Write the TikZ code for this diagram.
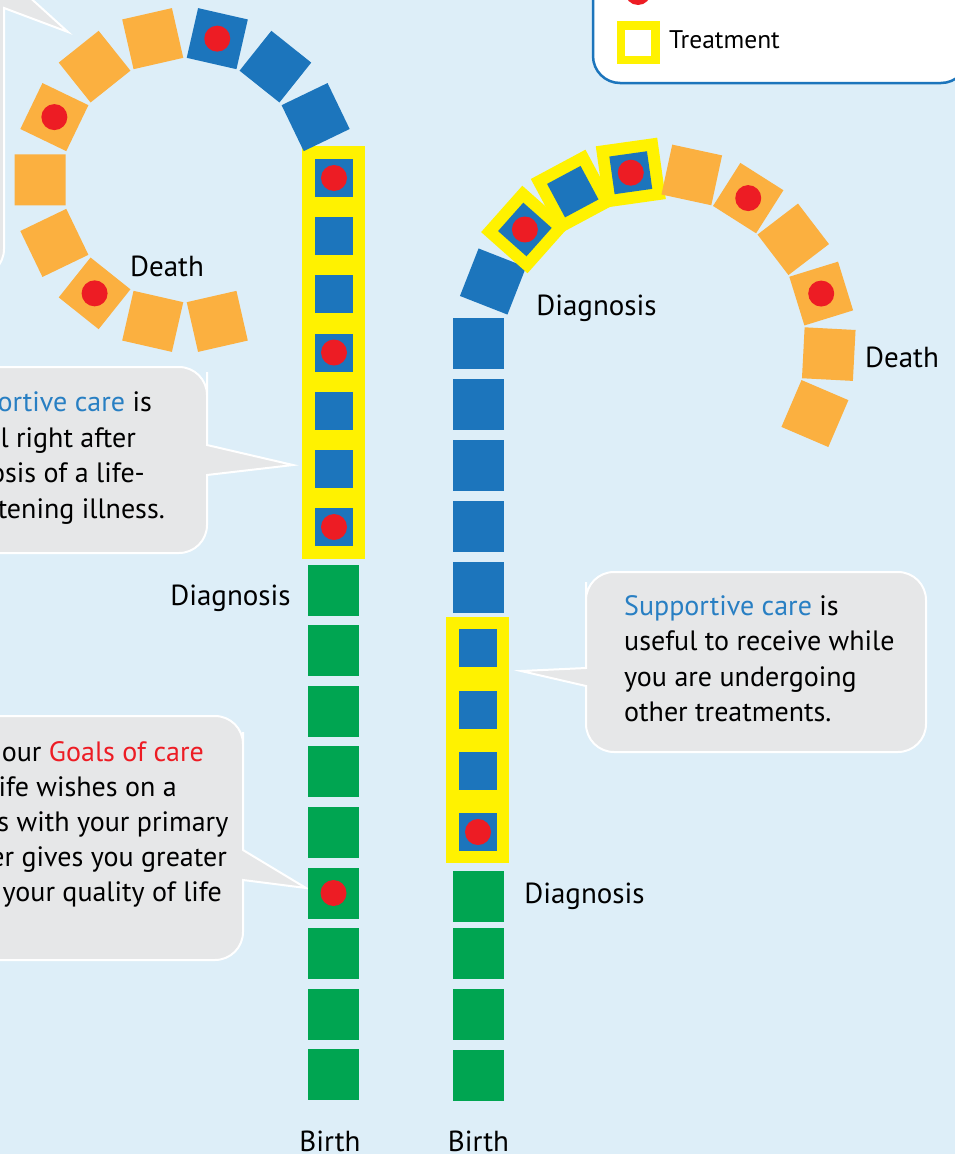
\documentclass[tikz,border=0pt]{standalone}
\usepackage{fontspec}
\setmainfont{PT Sans}
\usepackage{tikz}
\usetikzlibrary{calc}
\definecolor{bgblue}{RGB}{221,238,248}
\definecolor{stageblue}{RGB}{28,117,188}
\definecolor{stagegreen}{RGB}{0,165,81}
\definecolor{stageorange}{RGB}{251,176,64}
\definecolor{dotred}{RGB}{237,28,36}
\definecolor{careyellow}{RGB}{255,242,0}
\definecolor{bubblegrey}{RGB}{230,231,232}
\definecolor{textblue}{RGB}{40,127,195}
\newcommand{\stagefont}{\fontsize{29}{35}\selectfont}
\newcommand{\notefont}{\fontsize{28}{35}\selectfont}
\newcommand{\legfont}{\fontsize{25.5}{30}\selectfont}

\begin{document}
\begin{tikzpicture}[x=1pt, y=-1pt,
    stage/.style={rectangle, inner sep=0pt, minimum size=51pt},
    well/.style={stage, fill=stagegreen},
    ill/.style={stage, fill=stageblue},
    late/.style={stage, fill=stageorange},
    treat/.style={rectangle, inner sep=0pt, minimum size=62pt, fill=careyellow},
    insquare/.style={rectangle, inner sep=0pt, minimum size=38pt, fill=stageblue},
    frame/.style={rectangle, inner sep=0pt, fill=careyellow},
    reddot/.style={circle, inner sep=0pt, minimum size=26pt, fill=dotred},
    stagelabel/.style={inner sep=0pt, anchor=base, font=\stagefont},
    bubble/.style={fill=bubblegrey, draw=white, line width=2pt},
    bubtext/.style={inner sep=0pt, font=\notefont}]
    \useasboundingbox (0,0) rectangle (955,1154);
    \clip (0,0) rectangle (955,1154);
    \fill[bgblue] (0,0) rectangle (955,1154);

    % legend
    \path[fill=white, draw=stageblue, line width=2.5pt, rounded corners=27pt] (593,-80) rectangle (968,83);
    \node[reddot] (legdot) at (638,-8) {};
    \node[draw=careyellow, fill=white, line width=8.5pt, inner sep=0pt, minimum size=34.5pt] (legtreat) at (638.3,42.5) {};
    \node[inner sep=0pt, anchor=base west, font=\legfont] (legtext) at (669,48) {Treatment};

    % bubbles
    \path[bubble] (4,100) [rounded corners=28pt] -- (4,277) -- (-200,277) -- (-200,-100) -- (4,-100) -- (4,-60)
        [sharp corners] -- (4,-26) -- (68,32) -- (4,8) -- cycle;
    \path[bubble] (207,500) [rounded corners=28pt] -- (207,553) -- (-200,553) -- (-200,367) -- (207,367) -- (207,400)
        [sharp corners] -- (207,445) -- (293,465) -- (207,475) -- cycle;
    \path[bubble] (243,900) [rounded corners=28pt] -- (243,960) -- (-200,960) -- (-200,716) -- (243,716) -- (243,760)
        [sharp corners] -- (243,850) -- (306,888) -- (243,880) -- cycle;
    \path[bubble] (586,710) [rounded corners=28pt] -- (586,752) -- (926,752) -- (926,572) -- (586,572) -- (586,610)
        [sharp corners] -- (586,668) -- (521,671) -- (586,686) -- cycle;

    \foreach \t/\e [count=\i] in {{{\color{textblue}ortive care} is}/152, l right after/136, nosis of a life-/145, tening illness./165}
        \node[bubtext, anchor=base east] (mtxt\i) at (\e,{411.5+35.5*(\i-1)}) {\t};
    \foreach \t/\e [count=\i] in {{our {\color{dotred}Goals of care}}/204, ife wishes on a/177, s with your primary/228.5, er gives you greater/227, your quality of life/222}
        \node[bubtext, anchor=base east] (ltxt\i) at (\e,{761.7+35*(\i-1)}) {\t};
    \foreach \t [count=\i] in {{{\color{textblue}Supportive care} is}, useful to receive while, you are undergoing, other treatments.}
        \node[bubtext, anchor=base west] (rtxt\i) at (624,{615+35.5*(\i-1)}) {\t};

    % left path
    \foreach \i in {1,...,9}
        \node[well] (lg\i) at (333.5,{590+60.6*(\i-1)}) {};
    \node[reddot] (lgdot) at (lg6) {};
    \node[frame, minimum width=63pt, minimum height=413pt] (lframe) at (333.5,352.5) {};
    \foreach \i in {1,...,7}
        \node[insquare] (lt\i) at (334,{178+58.17*(\i-1)}) {};
    \foreach \i in {1,4,7}
        \node[reddot] (ltdot\i) at (lt\i) {};
    \coordinate (lc) at (185,180);
    \foreach \k/\s in {1/ill, 2/ill, 3/ill, 4/late, 5/late, 6/late, 7/late, 8/late, 9/late, 10/late, 11/late}
        \node[\s, rotate=\k*25.714] (la\k) at ($(lc)+(-\k*25.714:145)$) {};
    \foreach \k in {3,6,9}
        \node[reddot] (ladot\k) at (la\k) {};

    % right path
    \foreach \y [count=\i] in {896.5, 953.5, 1014.5, 1075.5}
        \node[well] (rg\i) at (478.5,\y) {};
    \node[frame, minimum width=63pt, minimum height=246pt] (rframe) at (477.5,740) {};
    \foreach \y [count=\i] in {648, 710, 771, 832}
        \node[insquare] (rt\i) at (478,\y) {};
    \node[reddot] (rtdot) at (rt4) {};
    \foreach \y [count=\i] in {343, 404, 465, 526.5, 587.5}
        \node[ill] (rb\i) at (478.5,\y) {};
    \coordinate (rc) at (655,345);
    \foreach \k/\s [evaluate=\k as \a using 158.6-20.2*\k] in {0/ill, 1/treat, 2/treat, 3/treat, 4/late, 5/late, 6/late, 7/late, 8/late, 9/late}
        \node[\s, rotate=\a] (ra\k) at ($(rc)+(-\a:174)$) {};
    \foreach \k [evaluate=\k as \a using 158.6-20.2*\k] in {1,2,3}
        \node[insquare, rotate=\a] (rai\k) at (ra\k) {};
    \foreach \k in {1,3,5,7}
        \node[reddot] (radot\k) at (ra\k) {};

    % labels
    \node[stagelabel] (death1) at (167,276) {Death};
    \node[stagelabel] (diag1) at (230.5,605) {Diagnosis};
    \node[stagelabel] (birth1) at (330,1151) {Birth};
    \node[stagelabel] (diag2) at (596.5,315) {Diagnosis};
    \node[stagelabel] (death2) at (902,367) {Death};
    \node[stagelabel] (diag3) at (584.5,903) {Diagnosis};
    \node[stagelabel] (birth2) at (478.5,1151) {Birth};
\end{tikzpicture}
\end{document}
